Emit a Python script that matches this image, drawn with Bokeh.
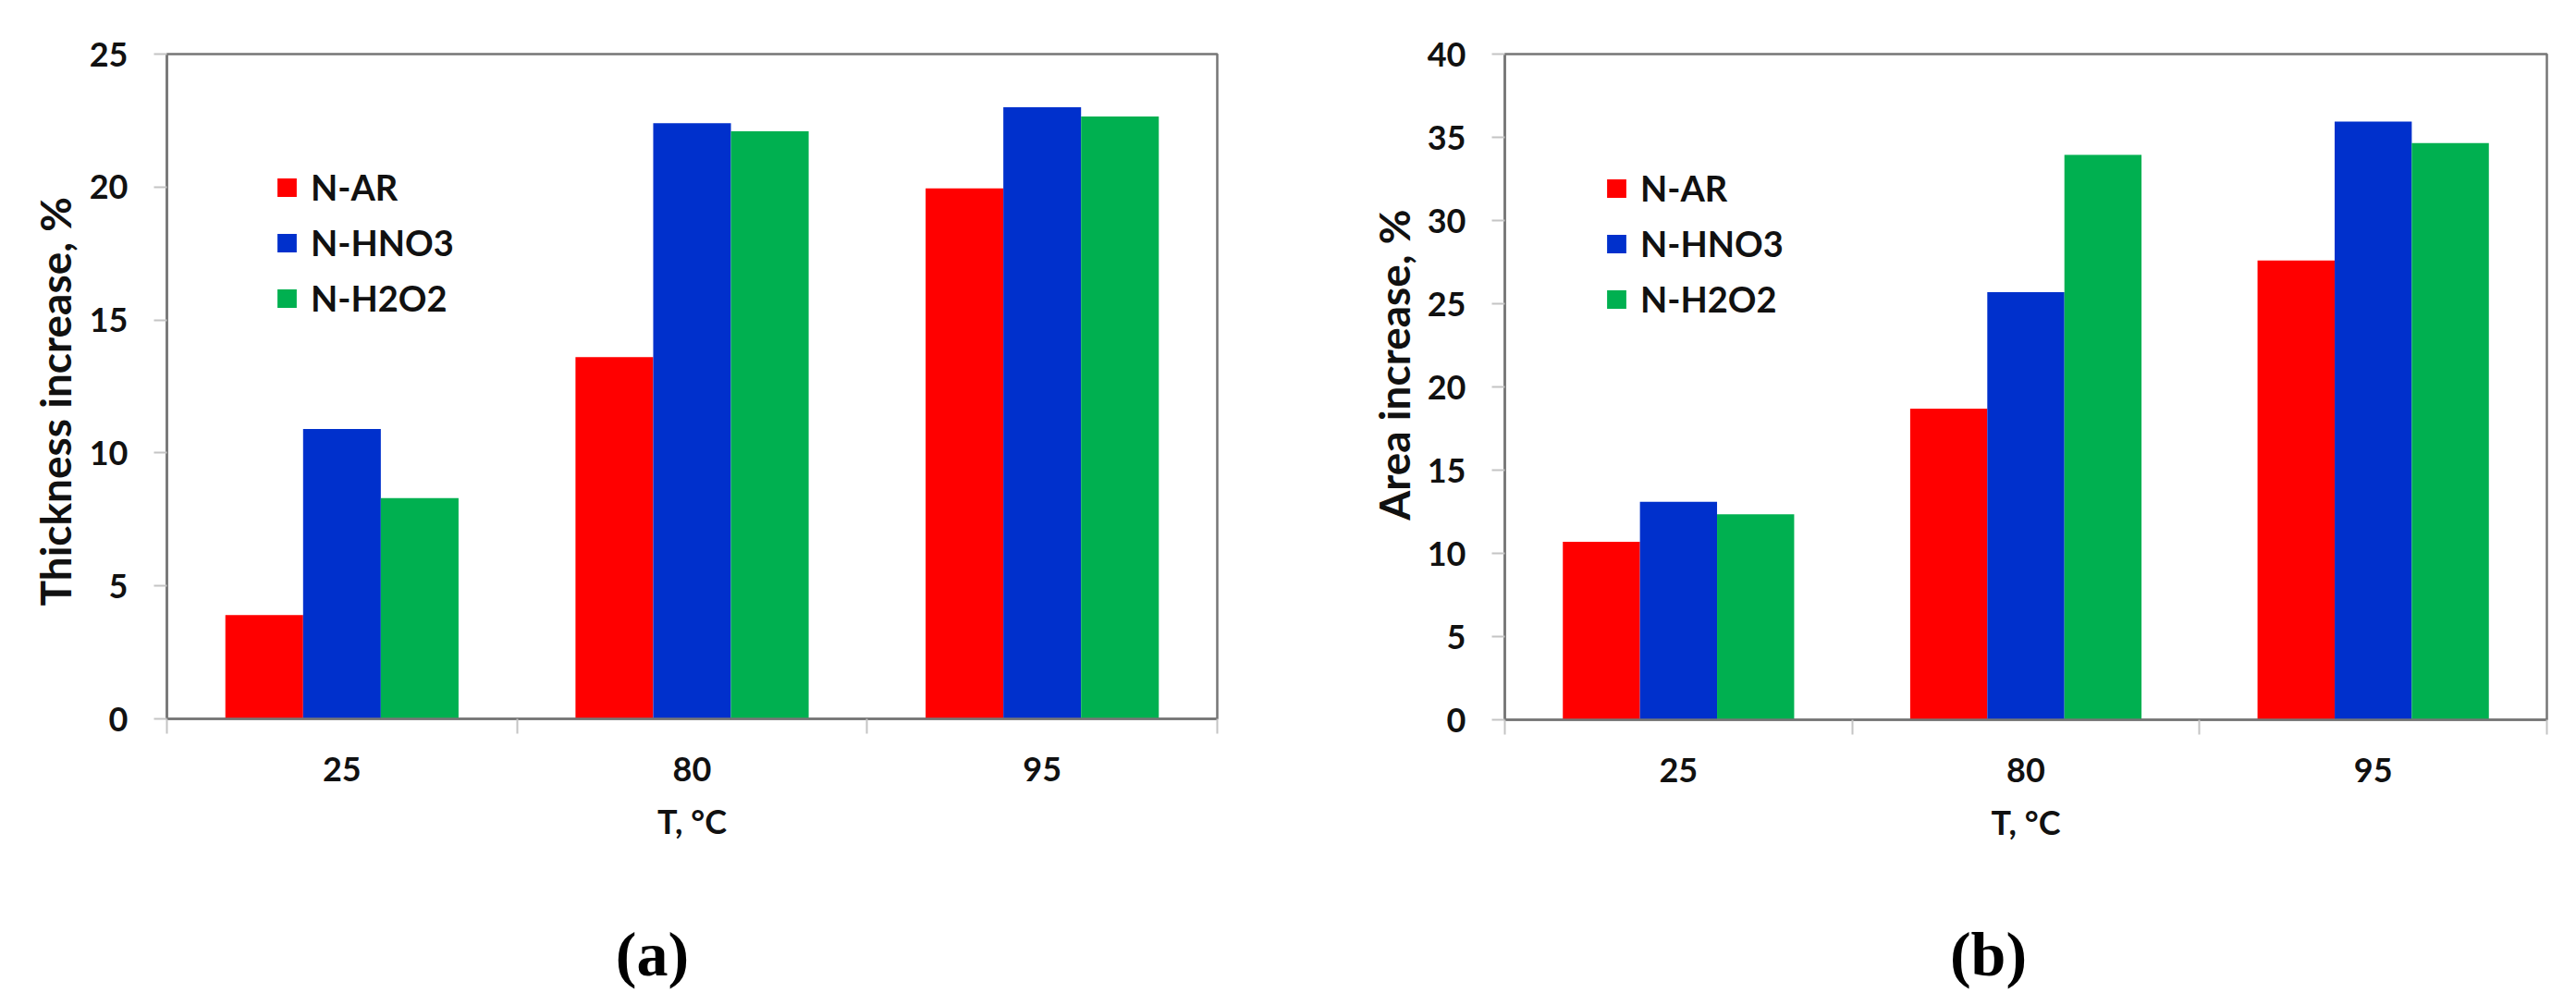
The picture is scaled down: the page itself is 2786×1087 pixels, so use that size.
import numpy as np
from bokeh.plotting import figure
from bokeh.layouts import row, column
from bokeh.models import (Range1d, LinearAxis, FixedTicker, SingleIntervalTicker,
                          Legend, LegendItem, Label, ColumnDataSource)
from bokeh.embed import file_html
from bokeh.resources import INLINE

categories = ["25", "80", "95"]
series = ["N-AR", "N-HNO3", "N-H2O2"]
colors = ["#FF0000", "#0030CC", "#00B050"]

thickness_ar = [3.9, 13.6, 19.95]
thickness_hno3 = [10.9, 22.4, 23.0]
thickness_h2o2 = [8.3, 22.1, 22.65]

area_ar = [10.7, 18.7, 27.6]
area_hno3 = [13.1, 25.7, 35.95]
area_h2o2 = [12.35, 33.95, 34.65]

FONT = "Lato"
AXIS_COL = "#767676"
TICK_COL = "#c4c4c4"
TOP_H = 940
BOT_H = 1087 - TOP_H


def blank(width, height):
    f = figure(width=width, height=height, x_range=Range1d(0, width),
               y_range=Range1d(0, height), x_axis_type=None, y_axis_type=None,
               min_border=0, min_border_left=0, min_border_right=0,
               min_border_top=0, min_border_bottom=0,
               output_backend="svg", toolbar_location=None)
    f.grid.visible = False
    f.outline_line_color = None
    return f


def ytitle(width, text, x, y):
    f = blank(width, TOP_H)
    f.add_layout(Label(x=x, y=y, text=text, angle=np.pi / 2,
                       text_align="center", text_baseline="middle",
                       text_font=FONT, text_font_style="bold",
                       text_font_size="46px", text_color="#111111"))
    return f


def tag(width, text, x, y):
    f = blank(width, BOT_H)
    f.add_layout(Label(x=x, y=y, text=text,
                       text_align="center", text_baseline="middle",
                       text_font="Liberation Serif", text_font_style="bold",
                       text_font_size="68px", text_color="#000000"))
    return f


def make_panel(values, ymax, frame_w, frame_h, bl, br, bt, legend_loc):
    p = figure(frame_width=frame_w, frame_height=frame_h,
               min_border_left=bl, min_border_right=br,
               min_border_top=bt, min_border_bottom=TOP_H - bt - frame_h,
               x_range=Range1d(0, len(categories)), y_range=Range1d(0, ymax),
               x_axis_type=None, y_axis_type=None,
               output_backend="svg", toolbar_location=None)
    p.grid.visible = False
    p.outline_line_color = AXIS_COL
    p.outline_line_width = 2.5
    p.background_fill_color = "white"

    xa = LinearAxis(ticker=FixedTicker(ticks=[i + 0.5 for i in range(len(categories))],
                                       minor_ticks=list(range(len(categories) + 1))))
    xa.major_label_overrides = {i + 0.5: c for i, c in enumerate(categories)}
    xa.major_tick_out = 0
    xa.major_tick_in = 0
    xa.minor_tick_out = 16
    xa.minor_tick_in = 0
    xa.minor_tick_line_color = TICK_COL
    xa.minor_tick_line_width = 2
    xa.axis_line_color = AXIS_COL
    xa.axis_line_width = 2.5
    xa.major_label_standoff = 25
    xa.major_label_text_font = FONT
    xa.major_label_text_font_style = "bold"
    xa.major_label_text_font_size = "36px"
    xa.major_label_text_color = "#111111"
    xa.axis_label = "T, °C"
    xa.axis_label_text_font = FONT
    xa.axis_label_text_font_style = "bold"
    xa.axis_label_text_font_size = "36px"
    xa.axis_label_text_color = "#111111"
    xa.axis_label_standoff = 18
    p.add_layout(xa, "below")

    ya = LinearAxis(ticker=SingleIntervalTicker(interval=5, num_minor_ticks=0))
    ya.major_tick_out = 14
    ya.major_tick_in = 0
    ya.minor_tick_out = 0
    ya.minor_tick_in = 0
    ya.major_tick_line_color = TICK_COL
    ya.major_tick_line_width = 2
    ya.axis_line_color = AXIS_COL
    ya.axis_line_width = 2.5
    ya.major_label_standoff = 28
    ya.major_label_text_font = FONT
    ya.major_label_text_font_style = "bold"
    ya.major_label_text_font_size = "36px"
    ya.major_label_text_color = "#111111"
    p.add_layout(ya, "left")

    n = len(series)
    bw = 0.222
    base = np.arange(len(categories)) + 0.5
    renderers = []
    for k, (name, vals, col) in enumerate(zip(series, values, colors)):
        src = ColumnDataSource(dict(x=base + (k - (n - 1) / 2) * bw, top=vals))
        r = p.vbar(x="x", top="top", width=bw, bottom=0, source=src,
                   fill_color=col, line_color=None)
        renderers.append(r)

    legend = Legend(items=[LegendItem(label=s, renderers=[r]) for s, r in zip(series, renderers)],
                    location=legend_loc, orientation="vertical",
                    glyph_width=26, glyph_height=25, label_standoff=13,
                    spacing=14, padding=0, margin=0,
                    border_line_color=None, background_fill_alpha=0,
                    label_text_font=FONT, label_text_font_style="bold",
                    label_text_font_size="38px", label_text_color="#111111")
    p.add_layout(legend, "center")
    return p


# left panel: y-title strip 90 px, frame at x=180
ya_strip = ytitle(90, "Thickness increase, %", 59, TOP_H - 492)
pa = make_panel([thickness_ar, thickness_hno3, thickness_h2o2], 25,
                1136, 719, 90, 77, 57, (117, 432))
# right panel: strip from 1393 to 1537, frame at x=1627
yb_strip = ytitle(144, "Area increase, %", 114, TOP_H - 440)
pb = make_panel([area_ar, area_hno3, area_h2o2], 40,
                1127, 720, 90, 32, 58, (108, 432))

tag_a = tag(1393, "(a)", 705, BOT_H - (1031 - TOP_H))
tag_b = tag(1393, "(b)", 2150 - 1393, BOT_H - (1031 - TOP_H))

layout = column(row(ya_strip, pa, yb_strip, pb, spacing=0),
                row(tag_a, tag_b, spacing=0), spacing=0)
open("out.html", "w").write(file_html(layout, INLINE))
